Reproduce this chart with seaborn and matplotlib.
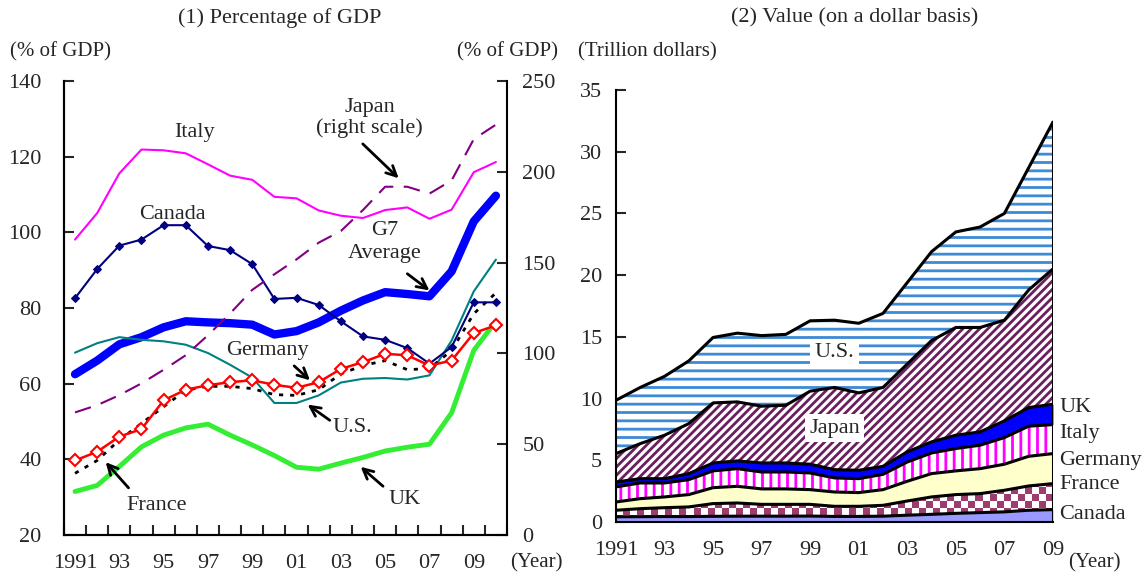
import numpy as np
import matplotlib
matplotlib.use('Agg')
import matplotlib.pyplot as plt
from matplotlib.colors import ListedColormap
import seaborn as sns

# (1) debt as % of GDP, 1991-2010
years = list(range(1991, 2011))
italy = [98.1, 105.1, 115.6, 121.9, 121.7, 120.9, 118.0, 115.0, 113.9, 109.4,
         109.0, 105.8, 104.4, 103.8, 105.9, 106.6, 103.6, 106.0, 115.9, 118.6]
canada = [82.6, 90.3, 96.5, 98.1, 101.9, 101.9, 96.4, 95.3, 91.6, 82.4,
          82.7, 80.8, 76.5, 72.5, 71.6, 69.4, 65.3, 69.7, 81.5, 81.5]
japan = [67.5, 71.5, 77.0, 83.5, 91.0, 99.0, 110.0, 122.0, 135.0, 143.6,
         151.8, 161.0, 167.4, 179.0, 191.8, 191.8, 188.0, 195.3, 218.0, 226.0]
g7_avg = [62.5, 66.1, 70.4, 72.3, 74.9, 76.5, 76.2, 76.0, 75.6, 73.0,
          73.9, 76.2, 79.3, 82.0, 84.2, 83.7, 83.1, 89.7, 102.9, 109.7]
germany = [68.2, 70.7, 72.3, 71.6, 71.2, 70.3, 68.1, 65.0, 61.6, 54.9,
           54.9, 56.9, 60.3, 61.3, 61.5, 61.1, 62.2, 71.4, 84.4, 92.8]
us = [36.3, 39.7, 45.1, 49.5, 53.9, 58.3, 59.3, 59.3, 58.7, 57.1,
      56.9, 58.4, 62.6, 64.8, 66.1, 63.7, 64.0, 68.8, 78.5, 84.0]
france = [39.7, 42.0, 46.0, 48.0, 55.6, 58.4, 59.6, 60.4, 60.9, 59.7,
          58.9, 60.4, 63.9, 65.7, 67.9, 67.5, 64.8, 66.1, 73.4, 75.4]
uk = [31.5, 33.1, 38.1, 43.3, 46.4, 48.3, 49.3, 46.4, 43.8, 41.0,
      37.9, 37.4, 39.0, 40.5, 42.2, 43.2, 44.0, 52.3, 68.8, 76.5]

# (2) value in trillion dollars, 1991-2009
years_v = list(range(1991, 2010))
canada_v = [0.42, 0.43, 0.44, 0.44, 0.46, 0.47, 0.47, 0.47, 0.48, 0.45,
            0.45, 0.47, 0.55, 0.62, 0.70, 0.76, 0.82, 0.95, 1.00]
france_v = [0.53, 0.65, 0.72, 0.78, 1.03, 1.07, 0.96, 0.96, 0.95, 0.82,
            0.82, 0.88, 1.15, 1.41, 1.52, 1.54, 1.75, 1.97, 2.11]
germany_v = [0.67, 0.81, 0.87, 1.00, 1.29, 1.35, 1.25, 1.25, 1.19, 1.16,
             1.11, 1.27, 1.60, 1.89, 1.92, 2.02, 2.11, 2.40, 2.43]
italy_v = [1.22, 1.27, 1.13, 1.21, 1.36, 1.43, 1.37, 1.37, 1.35, 1.14,
           1.13, 1.24, 1.56, 1.67, 1.81, 1.90, 2.16, 2.44, 2.35]
uk_v = [0.40, 0.35, 0.35, 0.49, 0.64, 0.63, 0.73, 0.73, 0.71, 0.67,
        0.68, 0.65, 0.82, 0.90, 1.08, 1.08, 1.35, 1.51, 1.65]
japan_v = [2.30, 2.84, 3.52, 4.05, 4.87, 4.78, 4.60, 4.68, 5.92, 6.66,
           6.27, 6.39, 7.12, 8.21, 8.73, 8.46, 8.16, 9.53, 10.96]
us_v = [4.32, 4.55, 4.77, 5.08, 5.30, 5.57, 5.72, 5.74, 5.70, 5.45,
        5.64, 6.00, 6.60, 7.20, 7.74, 8.14, 8.65, 9.90, 11.90]

odd_years = list(range(1991, 2010, 2))
odd_labels = ['1991'] + ['%02d' % (y % 100) for y in odd_years[1:]]

sns.set_theme(style='ticks')
plt.rcParams['font.family'] = ['Liberation Serif', 'DejaVu Serif']
plt.rcParams['hatch.linewidth'] = 2.0
plt.rcParams['axes.linewidth'] = 1.5

fig = plt.figure(figsize=(11.46, 5.75), dpi=100)
fs = 16

# ---------- left panel ----------
ax = fig.add_axes([0.0558, 0.0696, 0.3866, 0.7894])
ax2 = ax.twinx()

sns.lineplot(x=years, y=g7_avg, ax=ax, color='#0000ff', linewidth=6)
sns.lineplot(x=years, y=italy, ax=ax, color='#ff00ff', linewidth=1.5)
sns.lineplot(x=years, y=germany, ax=ax, color='#008080', linewidth=1.5)
sns.lineplot(x=years, y=uk, ax=ax, color='#33ee33', linewidth=3.5)
sns.lineplot(x=years, y=us, ax=ax, color='black', linewidth=2, linestyle=(0, (1.5, 2.5)))
sns.lineplot(x=years, y=canada, ax=ax, color='#000080', linewidth=1.5,
             marker='D', markersize=4, markeredgecolor='#000080')
sns.lineplot(x=years, y=france, ax=ax, color='#ff0000', linewidth=1.8,
             marker='D', markersize=6, markerfacecolor='white',
             markeredgecolor='#ff0000', markeredgewidth=1.5)
sns.lineplot(x=years, y=japan, ax=ax2, color='#800080', linewidth=1.5,
             linestyle=(0, (8, 5)))

ax.set_xlim(1990.5, 2010.5)
ax.set_ylim(20, 140)
ax.set_yticks(range(20, 141, 20))
ax2.set_ylim(0, 250)
ax2.set_yticks(range(0, 251, 50))
ax.set_xticks(odd_years)
ax.set_xticklabels(odd_labels)
ax.set_xticks(np.arange(1990.5, 2011, 1), minor=True)
ax.tick_params(axis='x', which='major', length=0, pad=14, labelsize=16)
ax.tick_params(axis='x', which='minor', direction='in', length=7, width=1.5)
ax.tick_params(axis='y', direction='in', length=7, width=1.5, pad=16, labelsize=16)
ax2.tick_params(axis='y', direction='in', length=7, width=1.5, pad=11, labelsize=16)
for a in (ax, ax2):
    a.set_xlabel('')
    a.set_ylabel('')
    a.spines['top'].set_visible(False)
    for s in a.spines.values():
        s.set_color('black')
ax.spines['right'].set_visible(False)

arrow = dict(arrowstyle='->', color='black', lw=2, mutation_scale=18)
ax.text(1996.4, 126.5, 'Italy', ha='center', va='center', fontsize=fs)
ax.text(1995.4, 104.6, 'Canada', ha='center', va='center', fontsize=fs)
ax.text(2004.3, 130.2, 'Japan\n(right scale)', ha='center', va='center', fontsize=fs, linespacing=1.1)
ax.annotate('', xy=(2005.7, 113.8), xytext=(2003.9, 123.9), arrowprops=arrow)
ax.text(2005.0, 97.5, 'G7\nAverage', ha='center', va='center', fontsize=fs, linespacing=1.3)
ax.annotate('', xy=(2007.1, 84.2), xytext=(2005.9, 89.5), arrowprops=arrow)
ax.text(1999.7, 68.9, 'Germany', ha='center', va='center', fontsize=fs)
ax.annotate('', xy=(2001.7, 60.4), xytext=(2000.8, 65.2), arrowprops=arrow)
ax.text(2003.5, 48.3, 'U.S.', ha='center', va='center', fontsize=fs)
ax.annotate('', xy=(2001.4, 54.9), xytext=(2002.6, 49.9), arrowprops=arrow)
ax.text(1994.7, 27.9, 'France', ha='center', va='center', fontsize=fs)
ax.annotate('', xy=(1992.3, 39.8), xytext=(1993.5, 31.9), arrowprops=arrow)
ax.text(2005.9, 29.3, 'UK', ha='center', va='center', fontsize=fs)
ax.annotate('', xy=(2003.8, 38.5), xytext=(2005.0, 32.4), arrowprops=arrow)

fig.text(0.2443, 0.9687, '(1) Percentage of GDP', ha='center', va='center', fontsize=16)
fig.text(0.0087, 0.9096, '(% of GDP)', ha='left', va='center', fontsize=15)
fig.text(0.487, 0.9096, '(% of GDP)', ha='right', va='center', fontsize=15)
fig.text(0.445, 0.021, '(Year)', ha='left', va='center', fontsize=15)

# ---------- right panel ----------
axr = fig.add_axes([0.5375, 0.0922, 0.3813, 0.7513])
layers = [
    (canada_v, '#9999ff', None, '#9999ff'),
    (france_v, 'white', None, 'white'),
    (germany_v, '#ffffcc', None, '#ffffcc'),
    (italy_v, 'white', '||', '#ff00ff'),
    (uk_v, '#0000ff', None, '#0000ff'),
    (japan_v, 'white', '////', '#6b1f5e'),
    (us_v, 'white', '--', '#3d8ad6'),
]
lower = np.zeros(len(years_v))
polys = []
for vals, face, hatch, hcol in layers:
    upper = lower + np.array(vals)
    polys.append(axr.fill_between(years_v, lower, upper, facecolor=face, hatch=hatch,
                                  edgecolor=hcol, linewidth=0))
    lower = upper

# checkerboard texture for France
checker = np.indices((62, 62)).sum(axis=0) % 2
im = axr.imshow(checker, extent=(1991, 2009, 0, 35), aspect='auto',
                cmap=ListedColormap(['white', '#9c3d6e']), interpolation='nearest',
                zorder=1.5)
im.set_clip_path(polys[1].get_paths()[0], transform=axr.transData)

lower = np.zeros(len(years_v))
for vals, face, hatch, hcol in layers:
    lower = lower + np.array(vals)
    sns.lineplot(x=years_v, y=lower, ax=axr, color='black', linewidth=2.2, zorder=3)
axr.vlines(years_v[-1], 0, lower[-1], color='black', linewidth=2.2, zorder=3)

axr.set_xlim(1991, 2009)
axr.set_ylim(0, 35)
axr.set_yticks(range(0, 36, 5))
axr.set_xticks(odd_years)
axr.set_xticklabels(odd_labels)
axr.tick_params(axis='x', length=0, pad=14, labelsize=16)
axr.tick_params(axis='y', direction='in', length=7, width=1.5, pad=10, labelsize=16)
axr.set_xlabel('')
axr.set_ylabel('')
axr.spines['top'].set_visible(False)
axr.spines['right'].set_visible(False)
for s in axr.spines.values():
    s.set_color('black')
    s.set_zorder(4)

box = dict(facecolor='white', edgecolor='none', pad=3)
axr.text(2000.0, 13.7, 'U.S.', ha='center', va='center', fontsize=fs, bbox=box, zorder=5)
axr.text(2000.0, 7.6, 'Japan', ha='center', va='center', fontsize=fs, bbox=box, zorder=5)
side = [('UK', 9.3), ('Italy', 7.2), ('Germany', 5.0), ('France', 3.0), ('Canada', 0.6)]
for name, yv in side:
    axr.text(2009.25, yv, name, ha='left', va='center', fontsize=fs, clip_on=False)

fig.text(0.746, 0.9687, '(2) Value (on a dollar basis)', ha='center', va='center', fontsize=16)
fig.text(0.5044, 0.9096, '(Trillion dollars)', ha='left', va='center', fontsize=15)
fig.text(0.932, 0.021, '(Year)', ha='left', va='center', fontsize=15)

fig.savefig('out.png', dpi=100)
